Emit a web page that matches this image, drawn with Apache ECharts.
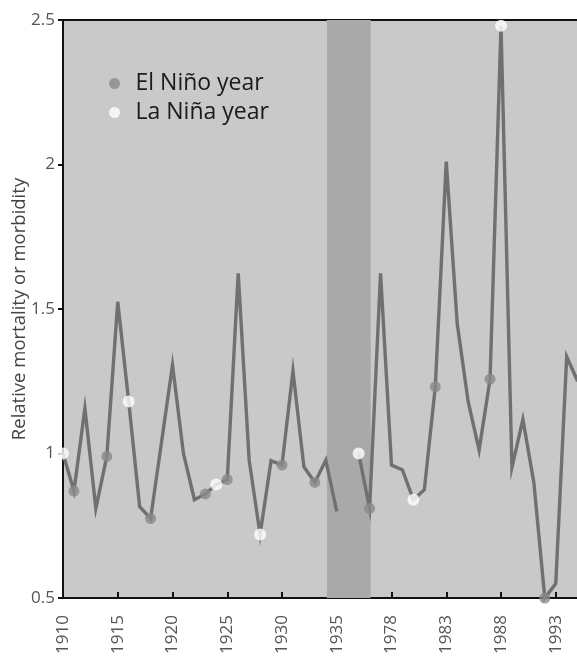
<!DOCTYPE html>
<html>
<head>
<meta charset="utf-8">
<script src="https://cdn.jsdelivr.net/npm/echarts@6/dist/echarts.min.js"></script>
<style>
  html, body { margin: 0; padding: 0; background: #ffffff; }
  #chart { width: 577px; height: 659px; }
</style>
</head>
<body>
<div id="chart"></div>
<script>
// Year slots along the x axis ('' marks the break between the two periods)
const years = [
  1910, 1911, 1912, 1913, 1914, 1915, 1916, 1917, 1918, 1919,
  1920, 1921, 1922, 1923, 1924, 1925, 1926, 1927, 1928, 1929,
  1930, 1931, 1932, 1933, 1934, 1935,
  '',
  1975, 1976, 1977, 1978, 1979, 1980, 1981, 1982, 1983, 1984,
  1985, 1986, 1987, 1988, 1989, 1990, 1991, 1992, 1993, 1994, 1995
];
// Relative mortality (1910-1935) or morbidity (1975-1995)
const relative = [
  1.00, 0.87, 1.156, 0.81, 0.99, 1.525, 1.18, 0.816, 0.775, 1.04,
  1.306, 1.00, 0.84, 0.86, 0.893, 0.91, 1.623, 0.977, 0.72, 0.975,
  0.96, 1.285, 0.954, 0.90, 0.977, 0.80,
  null,
  1.00, 0.81, 1.623, 0.96, 0.943, 0.84, 0.875, 1.231, 2.01, 1.45,
  1.18, 1.012, 1.257, 2.48, 0.952, 1.118, 0.90, 0.50, 0.55, 1.335, 1.25
];
const elNinoYears = [1911, 1914, 1918, 1923, 1925, 1930, 1933, 1976, 1982, 1987, 1992];
const laNinaYears = [1910, 1916, 1924, 1928, 1975, 1980, 1988];
const yTicks = ['0.5', '1', '1.5', '2', '2.5'];

const lineData = relative.map((v, i) => [i, v === null ? '-' : v]);
const pts = ys => ys.map(y => { const i = years.indexOf(y); return [i, relative[i]]; });

const FONT = 'Open Sans';
const chart = echarts.init(document.getElementById('chart'), null, { renderer: 'canvas' });
chart.setOption({
  animation: false,
  backgroundColor: '#ffffff',
  textStyle: { fontFamily: FONT },
  grid: {
    left: 63, top: 20, bottom: 61, right: -33.5,
    containLabel: false, outerBoundsMode: 'none',
    show: true, backgroundColor: '#c9c9c9', borderColor: '#111111', borderWidth: 2
  },
  legend: {
    orient: 'vertical', left: 104, top: 67, itemWidth: 24, itemHeight: 11, itemGap: 6,
    icon: 'circle',
    textStyle: { fontFamily: FONT, fontSize: 23, color: '#1a1a1a', padding: [0, 0, 0, 4] },
    data: ['El Niño year', 'La Niña year']
  },
  xAxis: {
    type: 'value', min: 0, max: 50, interval: 5,
    splitLine: { show: false },
    axisLine: { onZero: false, lineStyle: { color: '#111111', width: 2 } },
    axisTick: { inside: true, length: 6, lineStyle: { color: '#111111', width: 2 } },
    axisLabel: {
      rotate: 90, margin: 17, fontSize: 17, color: '#555555', fontFamily: FONT,
      showMaxLabel: false,
      formatter: v => (Number.isInteger(v) && years[v] !== undefined) ? String(years[v]) : ''
    }
  },
  yAxis: {
    type: 'value', min: 0.5, max: 2.5, interval: 0.5,
    name: 'Relative mortality or morbidity', nameLocation: 'middle', nameGap: 34,
    nameMoveOverlap: false,
    nameTextStyle: { fontSize: 18.5, color: '#444444', fontFamily: FONT },
    splitLine: { show: false },
    axisLine: { show: true, lineStyle: { color: '#111111', width: 2 } },
    axisTick: { show: true, length: 5, lineStyle: { color: '#111111', width: 2 } },
    axisLabel: {
      margin: 8, fontSize: 17, color: '#555555', fontFamily: FONT,
      formatter: v => yTicks.find(t => Math.abs(parseFloat(t) - v) < 1e-6) || ''
    }
  },
  series: [
    {
      type: 'line', data: [], z: 1, silent: true,
      markArea: {
        silent: true,
        itemStyle: { color: '#a9a9a9', opacity: 1 },
        data: [[{ xAxis: 24.1 }, { xAxis: 28.1 }]]
      }
    },
    {
      name: 'relative', type: 'line', data: lineData, z: 3,
      showSymbol: false, connectNulls: false, clip: false,
      lineStyle: { color: '#707070', width: 3.4, join: 'miter' }
    },
    {
      name: 'El Niño year', type: 'scatter', data: pts(elNinoYears), z: 4, clip: false,
      symbolSize: 11, itemStyle: { color: '#8a8a8a' }
    },
    {
      name: 'La Niña year', type: 'scatter', data: pts(laNinaYears), z: 4, clip: false,
      symbolSize: 12, itemStyle: { color: '#ffffff' }
    }
  ]
});
</script>
</body>
</html>
